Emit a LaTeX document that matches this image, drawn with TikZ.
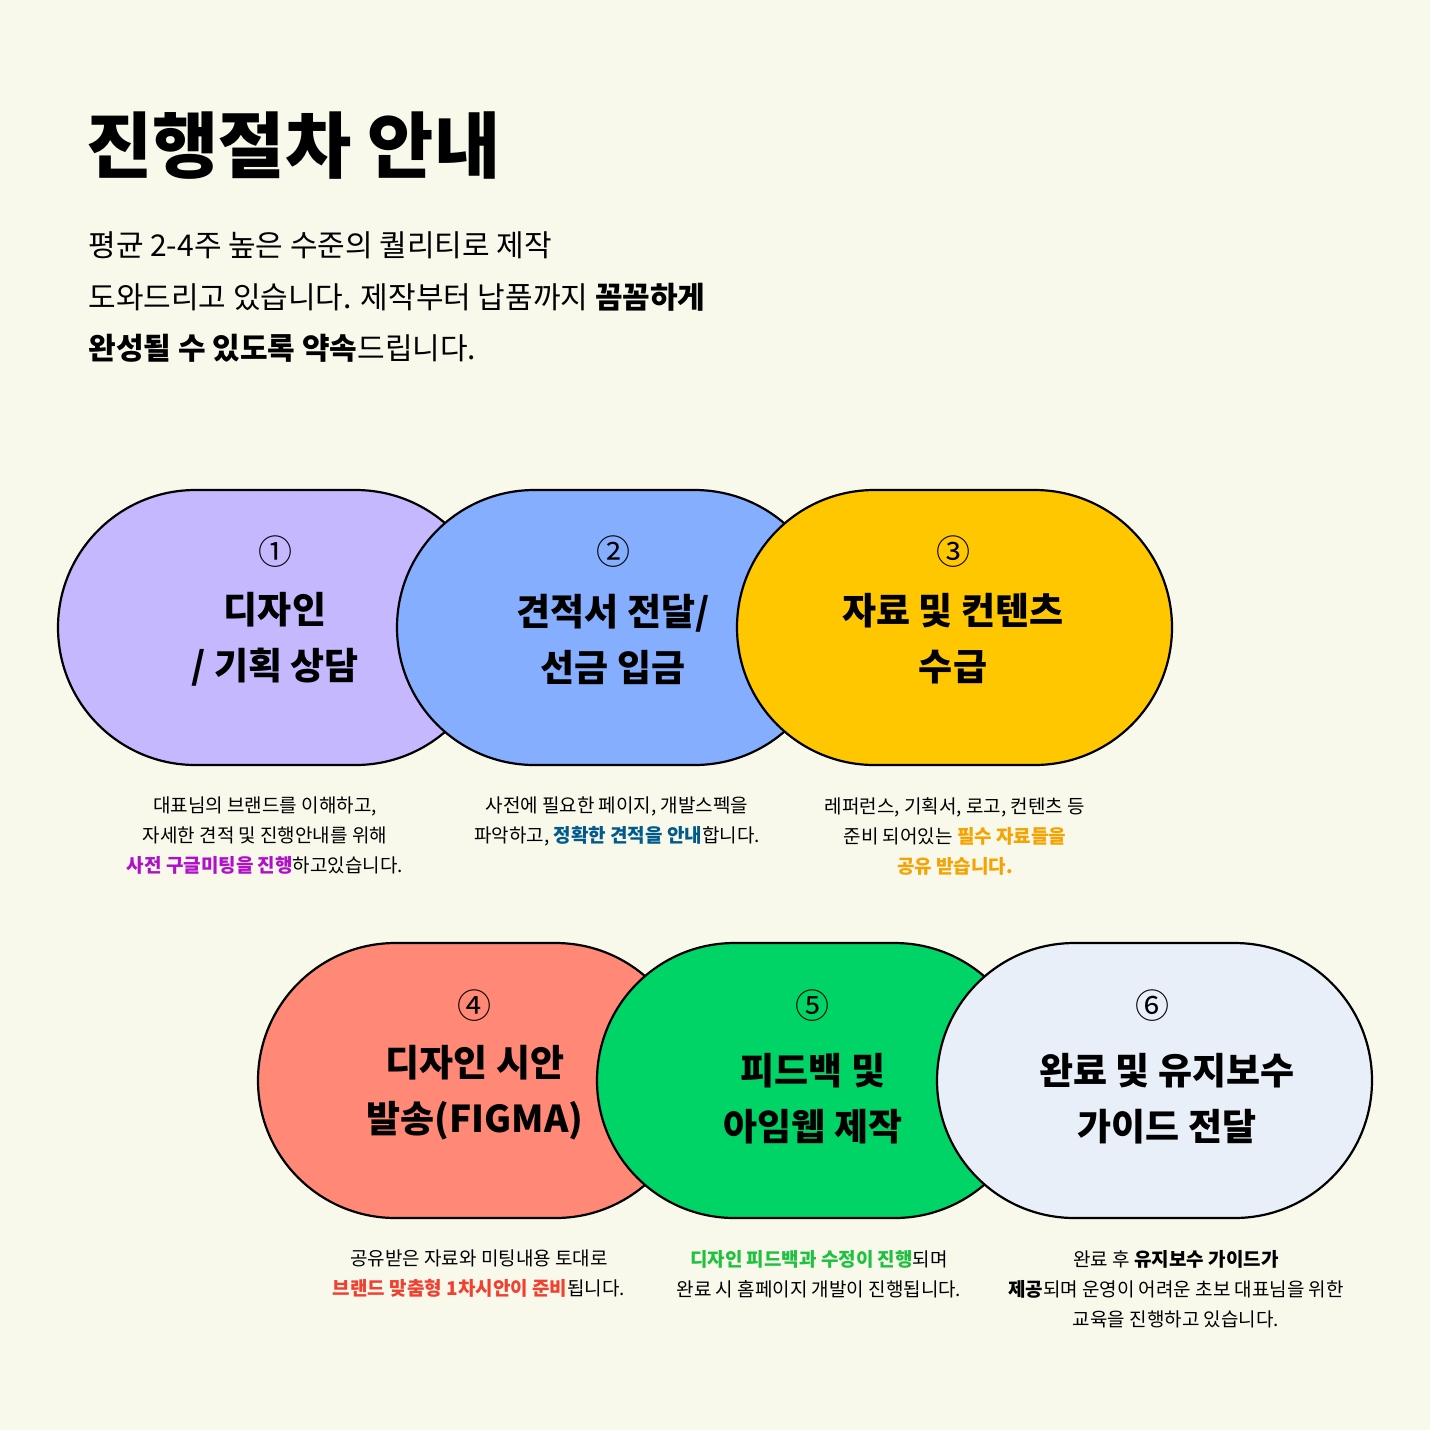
\documentclass[tikz,border=0pt]{standalone}
\usepackage{fontspec}
\setmainfont{Noto Sans CJK KR}
\definecolor{bg}{HTML}{F8F8EB}
\definecolor{cpur}{HTML}{C5B8FF}
\definecolor{cblu}{HTML}{85AEFF}
\definecolor{cyel}{HTML}{FFC700}
\definecolor{csal}{HTML}{FF8876}
\definecolor{cgrn}{HTML}{00D466}
\definecolor{clig}{HTML}{E8EFF8}
\definecolor{tpur}{HTML}{B010C8}
\definecolor{tblu}{HTML}{005A8C}
\definecolor{tora}{HTML}{F5A300}
\definecolor{tred}{HTML}{F04030}
\definecolor{tgrn}{HTML}{20C040}
\tikzset{pill/.style={draw=black,line width=1.1pt,rounded corners=68.75pt,minimum width=217.5pt,minimum height=137.5pt,inner sep=0pt},
num/.style={font=\fontsize{17}{17}\selectfont},
big/.style={font=\fontsize{18.5}{28}\selectfont\bfseries,align=center},
captxt/.style={font=\fontsize{9.5}{15}\selectfont,align=center}}
\begin{document}
\begin{tikzpicture}[x=0.5pt,y=-0.5pt]
\fill[bg] (0,0) rectangle (1430,1430);
\useasboundingbox (0,0) rectangle (1430,1430);
\node[anchor=base west,inner sep=0,font=\fontsize{36}{36}\selectfont\bfseries] (title) at (86,172) {진행절차 안내};
\node[anchor=base west,inner sep=0,font=\fontsize{15}{15}\selectfont] (s1) at (88,256) {평균 2-4주 높은 수준의 퀄리티로 제작};
\node[anchor=base west,inner sep=0,font=\fontsize{15}{15}\selectfont] (s2) at (88,308) {도와드리고 있습니다. 제작부터 납품까지 \textbf{꼼꼼하게}};
\node[anchor=base west,inner sep=0,font=\fontsize{15}{15}\selectfont] (s3) at (88,359) {\textbf{완성될 수 있도록 약속}드립니다.};
% row 1
\node[pill,fill=cpur] (p1) at (275.5,627.5) {};
\node[pill,fill=cblu] (p2) at (614.5,627.5) {};
\node[pill,fill=cyel] (p3) at (954.5,627.5) {};
\node[num] (n1) at (275,552) {①};
\node[num] (n2) at (613,552) {②};
\node[num] (n3) at (953,552) {③};
\node[big] (t1) at (275,639) {디자인\\/ 기획 상담};
\node[big] (t2) at (613,639) {견적서 전달/\\선금 입금};
\node[big] (t3) at (953,639) {자료 및 컨텐츠\\수급};
\node[captxt] (c1) at (265,836) {대표님의 브랜드를 이해하고,\\자세한 견적 및 진행안내를 위해\\\textcolor{tpur}{\textbf{사전 구글미팅을 진행}}하고있습니다.};
\node[captxt] (c2) at (617,821) {사전에 필요한 페이지, 개발스펙을\\파악하고, \textcolor{tblu}{\textbf{정확한 견적을 안내}}합니다.};
\node[captxt] (c3) at (955,836) {레퍼런스, 기획서, 로고, 컨텐츠 등\\준비 되어있는 \textcolor{tora}{\textbf{필수 자료들을}}\\\textcolor{tora}{\textbf{공유 받습니다.}}};
% row 2
\node[pill,fill=csal] (p4) at (475.5,1080.5) {};
\node[pill,fill=cgrn] (p5) at (814.5,1080.5) {};
\node[pill,fill=clig] (p6) at (1154.5,1080.5) {};
\node[num] (n4) at (474,1006) {④};
\node[num] (n5) at (812,1006) {⑤};
\node[num] (n6) at (1152,1006) {⑥};
\node[big] (t4) at (475,1093) {디자인 시안\\발송(FIGMA)};
\node[big] (t5) at (813,1099) {피드백 및\\아임웹 제작};
\node[big] (t6) at (1167,1099) {완료 및 유지보수\\가이드 전달};
\node[captxt] (c4) at (479,1274) {공유받은 자료와 미팅내용 토대로\\\textcolor{tred}{\textbf{브랜드 맞춤형 1차시안이 준비}}됩니다.};
\node[captxt] (c5) at (819,1274) {\textcolor{tgrn}{\textbf{디자인 피드백과 수정이 진행}}되며\\완료 시 홈페이지 개발이 진행됩니다.};
\node[captxt] (c6) at (1176,1289) {완료 후 \textbf{유지보수 가이드가}\\\textbf{제공}되며 운영이 어려운 초보 대표님을 위한\\교육을 진행하고 있습니다.};
\end{tikzpicture}
\end{document}
